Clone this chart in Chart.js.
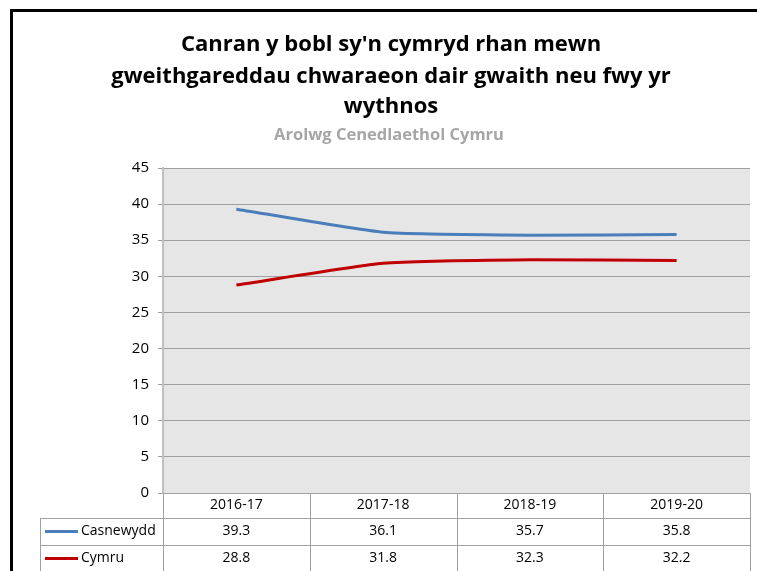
<!DOCTYPE html>
<html>
<head>
<meta charset="utf-8">
<script src="https://cdn.jsdelivr.net/npm/chart.js@4"></script>
<style>
  html, body { margin: 0; padding: 0; background: #fff; }
  #wrap { position: relative; width: 757px; height: 571px; }
</style>
</head>
<body>
<div id="wrap"><canvas id="chart" width="757" height="571"></canvas></div>
<script>
// data
const years = ['2016-17', '2017-18', '2018-19', '2019-20'];
const casnewydd = [39.3, 36.1, 35.7, 35.8];
const cymru = [28.8, 31.8, 32.3, 32.2];
const titleLines = ["Canran y bobl sy'n cymryd rhan mewn", 'gweithgareddau chwaraeon dair gwaith neu fwy yr', 'wythnos'];
const subtitle = 'Arolwg Cenedlaethol Cymru';

const FONT = '"Open Sans", "Liberation Sans", sans-serif';
const GRID = '#A0A0A0';

// frame, plot background, title
const backdrop = {
  id: 'backdrop',
  beforeDraw(chart) {
    const { ctx, chartArea: a } = chart;
    ctx.save();
    ctx.fillStyle = '#E6E6E6';
    ctx.fillRect(a.left, a.top, a.right - a.left, a.bottom - a.top);
    ctx.restore();
  },
  afterDraw(chart) {
    const ctx = chart.ctx;
    ctx.save();
    ctx.strokeStyle = '#000';
    ctx.lineWidth = 3;
    ctx.beginPath();
    ctx.moveTo(11.5, 571);
    ctx.lineTo(11.5, 10.5);
    ctx.lineTo(757, 10.5);
    ctx.stroke();

    ctx.fillStyle = '#000';
    ctx.textAlign = 'center';
    ctx.textBaseline = 'middle';
    ctx.font = 'bold 22px ' + FONT;
    const tys = [45, 77, 107];
    titleLines.forEach((t, i) => ctx.fillText(t, 391, tys[i]));
    ctx.fillStyle = '#A6A6A6';
    ctx.font = 'bold 16.5px ' + FONT;
    ctx.fillText(subtitle, 389, 135);
    ctx.restore();
  }
};

// data table under the plot, columns follow the x scale
const dataTable = {
  id: 'dataTable',
  afterDraw(chart) {
    const { ctx, chartArea: a } = chart;
    const xs = chart.scales.x;
    const n = years.length;
    const step = (a.right - a.left) / n;
    const rows = [a.bottom, a.bottom + 25, a.bottom + 52, a.bottom + 79];
    const leftX = 40;
    ctx.save();
    ctx.strokeStyle = GRID;
    ctx.lineWidth = 1;
    ctx.beginPath();
    for (let i = 0; i <= n; i++) {
      const x = Math.round(a.left + step * i) + 0.5;
      ctx.moveTo(x, rows[0]);
      ctx.lineTo(x, rows[3]);
    }
    ctx.moveTo(a.left, rows[0] + 0.5);
    ctx.lineTo(a.right, rows[0] + 0.5);
    for (let r = 1; r < 3; r++) {
      ctx.moveTo(leftX, rows[r] + 0.5);
      ctx.lineTo(a.right, rows[r] + 0.5);
    }
    ctx.moveTo(leftX + 0.5, rows[1]);
    ctx.lineTo(leftX + 0.5, rows[3]);
    ctx.stroke();

    ctx.fillStyle = '#000';
    ctx.font = '14px ' + FONT;
    ctx.textAlign = 'center';
    ctx.textBaseline = 'middle';
    years.forEach((y, i) => {
      const cx = xs.getPixelForValue(i);
      ctx.fillText(y, cx, (rows[0] + rows[1]) / 2);
    });
    chart.data.datasets.forEach((ds, r) => {
      const cy = (rows[r + 1] + rows[r + 2]) / 2;
      ds.data.forEach((v, i) => {
        ctx.textAlign = 'center';
        ctx.fillText(v.toFixed(1), xs.getPixelForValue(i), cy);
      });
      ctx.strokeStyle = ds.borderColor;
      ctx.lineWidth = 3;
      ctx.beginPath();
      ctx.moveTo(leftX + 5, cy);
      ctx.lineTo(leftX + 38, cy);
      ctx.stroke();
      ctx.textAlign = 'left';
      ctx.fillText(ds.label, leftX + 41, cy);
    });
    ctx.restore();
  }
};

new Chart(document.getElementById('chart'), {
  type: 'line',
  data: {
    labels: years,
    datasets: [
      { label: 'Casnewydd', data: casnewydd, borderColor: '#4A7EBB', borderWidth: 3, pointRadius: 0, tension: 0.15 },
      { label: 'Cymru', data: cymru, borderColor: '#C00000', borderWidth: 3, pointRadius: 0, tension: 0.15 }
    ]
  },
  options: {
    responsive: false,
    animation: false,
    events: [],
    layout: { padding: { left: 0, top: 168, right: 7, bottom: 78 } },
    plugins: { legend: { display: false }, title: { display: false }, tooltip: { enabled: false } },
    scales: {
      x: { type: 'category', display: false, offset: true },
      y: {
        min: 0, max: 45,
        ticks: { stepSize: 5, padding: 9, color: '#000', font: { family: FONT, size: 15 } },
        grid: { color: GRID, lineWidth: 1, tickLength: 5, drawTicks: true },
        border: { color: '#BFBFBF', width: 2 },
        afterFit(scale) { scale.width = 163; }
      }
    }
  },
  plugins: [backdrop, dataTable]
});
</script>
</body>
</html>
